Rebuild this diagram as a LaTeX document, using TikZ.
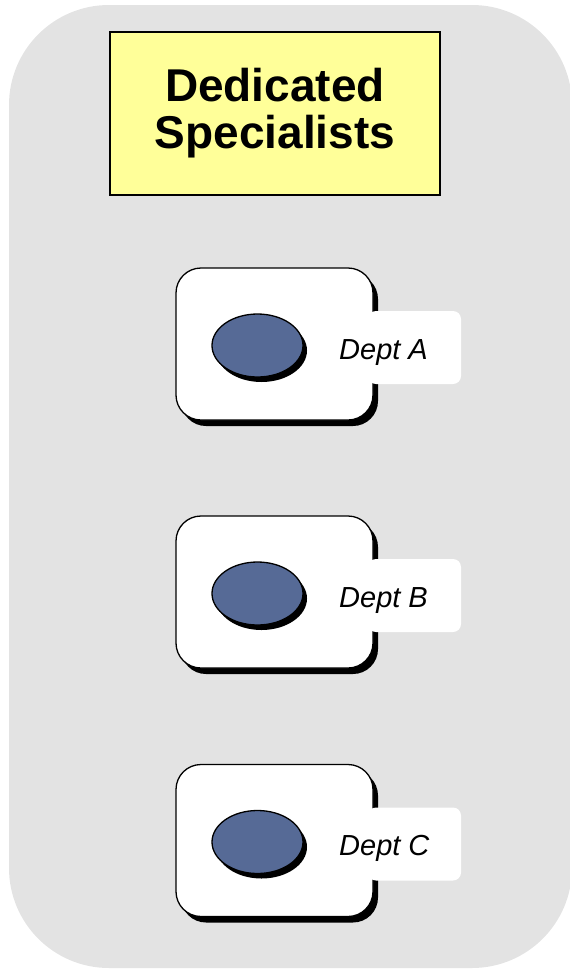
\documentclass[tikz,border=0pt]{standalone}
\usepackage{fontspec}
\setmainfont{Liberation Sans}
\usetikzlibrary{shapes.geometric,shadows}
\definecolor{panelgray}{HTML}{E3E3E3}
\definecolor{titleyellow}{HTML}{FFFF99}
\definecolor{deptblue}{HTML}{566A96}
\tikzset{
  panel/.style={fill=panelgray, draw=none, rounded corners=100pt},
  titlebox/.style={draw=black, line width=1.2pt, fill=titleyellow, minimum width=330pt,
    minimum height=163pt, align=center, inner sep=0pt,
    font=\fontsize{46}{47}\selectfont\bfseries},
  deptbox/.style={draw=black, line width=1.3pt, fill=white, rounded corners=25pt,
    minimum width=197pt, minimum height=152pt, inner sep=0pt,
    drop shadow={shadow xshift=5pt, shadow yshift=-6pt, fill=black, opacity=1}},
  tab/.style={fill=white, draw=none, rounded corners=8pt, minimum width=93pt,
    minimum height=73pt, inner sep=0pt},
  depttext/.style={font=\fontsize{29}{33}\selectfont\itshape, inner sep=0pt, anchor=base west},
  unit/.style={ellipse, draw=black, line width=1.3pt, fill=deptblue,
    minimum width=91pt, minimum height=63pt, inner sep=0pt,
    drop shadow={shadow xshift=4pt, shadow yshift=-5pt, fill=black, opacity=1}}
}
\begin{document}
\begin{tikzpicture}[x=1pt, y=-1pt]
  \useasboundingbox (0,0) rectangle (570,970);
  % grey background panel
  \fill[panel] (9,5) rectangle (572,968);
  % heading
  \node[titlebox] (title) at (275,113.5) {Dedicated\\Specialists};
  % department cards
  \foreach \name/\y in {A/344, B/592, C/840.5} {
    \node[deptbox] (box\name) at (274.5,\y) {};
    \node[tab] (tab\name) at (414.5,\y+3.5) {};
    \node[depttext] (txt\name) at (339,\y+15) {Dept \name};
    \node[unit] (unit\name) at (257.5,\y+1.5) {};
  }
\end{tikzpicture}
\end{document}
